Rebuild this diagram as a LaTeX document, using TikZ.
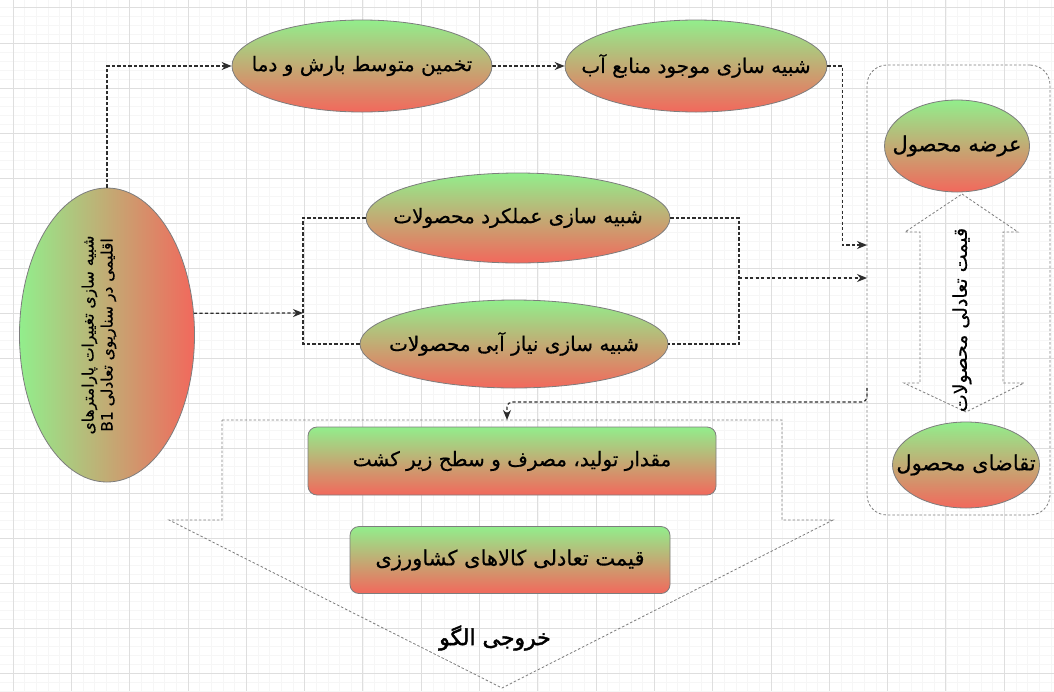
\documentclass[tikz,border=0pt]{standalone}
\usepackage{graphicx}
\usepackage{fontspec}
\newfontfamily\arabicfont[Script=Arabic,FakeBold=0.6]{DejaVu Sans}
\newfontfamily\arabicbold[Script=Arabic,FakeBold=2]{DejaVu Sans}
\TeXXeTstate=1
\usetikzlibrary{shapes.geometric,arrows.meta}
\definecolor{gtop}{RGB}{146,238,140}
\definecolor{rbot}{RGB}{242,104,92}
\definecolor{edgec}{RGB}{125,125,125}
\definecolor{linec}{RGB}{45,45,45}
\definecolor{gridmaj}{RGB}{222,222,222}
\definecolor{gridmin}{RGB}{246,246,246}
\newcommand{\ztxt}[1]{\makebox[0pt]{\beginR #1\endR}}
\begin{document}
\begin{tikzpicture}[x=1pt,y=-1pt,
  arfont/.style={font=\arabicfont\fontsize{#1}{#1}\selectfont},
  arfont/.default=20,
  grad/.style={top color=gtop,bottom color=rbot,draw=edgec,line width=0.8pt},
  oval/.style={grad,ellipse,inner sep=0pt,arfont},
  rbox/.style={grad,rectangle,rounded corners=9pt,inner sep=0pt,arfont},
  conn/.style={draw=linec,line width=1.2pt,dash pattern=on 3.2pt off 2.3pt},
  arr/.style={-{Stealth[length=10pt,width=8pt]}},
  outline/.style={draw=edgec,line width=0.8pt,dash pattern=on 2.5pt off 2pt}
]
\useasboundingbox (0,0) rectangle (1054,691);
\fill[white] (0,0) rectangle (1054,691);
% grid
\foreach \i in {0,...,90} \draw[gridmin,line width=0.4pt] ({13+11.66*\i},0) -- ({13+11.66*\i},691);
\foreach \j in {0,...,77} \draw[gridmin,line width=0.4pt] (0,{-2+9*\j}) -- (1054,{-2+9*\j});
\foreach \i in {0,...,17} \draw[gridmaj,line width=0.7pt] ({13+58.3*\i},0) -- ({13+58.3*\i},691);
\foreach \j in {1,...,15} \draw[gridmaj,line width=0.7pt] (0,{-2+45*\j}) -- (1054,{-2+45*\j});
\draw[gridmaj,line width=0.7pt] (13,7) -- (1054,7);

% big output arrow
\draw[outline] (222,420) -- (782,420) -- (782,520) -- (833,520) -- (502,688) -- (169,520) -- (222,520) -- cycle;
\coordinate (bigtop) at (507,420);

% right box
\node[outline,rectangle,rounded corners=20pt,minimum width=183pt,minimum height=450pt,inner sep=0pt] (box) at (958.5,290) {};
\coordinate (b1) at (867,245);
\coordinate (b2) at (867,278);
\coordinate (b3) at (867,388);

% double arrow inside box
\draw[outline] (962,194) -- (1018,232) -- (1003,232) -- (1003,383) -- (1024,383) -- (966,412) -- (904,383) -- (920,383) -- (920,232) -- (905,232) -- cycle;
\node[arfont=19,rotate=90,inner sep=0pt] (ptxt) at (962,320) {\beginR قیمت تعادلی محصولات\endR};

% nodes
\node[oval,left color=gtop,right color=rbot,minimum width=175pt,minimum height=294pt] (L) at (107,335)
  {\makebox[0pt]{\hspace*{-16pt}\smash{\raisebox{-.5\height}{\rotatebox{90}{\fontsize{15.5}{20}\selectfont\begin{tabular}{@{}c@{}}\beginR شبیه سازی تغییرات پارامترهای\endR\\[-1pt] \beginR اقلیمی در سناریوی تعادلی \beginL B1\endL\endR\end{tabular}}}}}};
\node[oval,minimum width=260pt,minimum height=92pt] (e1) at (362,66) {\ztxt{تخمین متوسط بارش و دما}};
\node[oval,minimum width=262pt,minimum height=92pt] (e2) at (696,66) {\ztxt{شبیه سازی موجود منابع آب}};
\node[oval,minimum width=304pt,minimum height=90pt] (e3) at (518,218) {\ztxt{شبیه سازی عملکرد محصولات}};
\node[oval,minimum width=308pt,minimum height=88pt] (e4) at (514,344) {\ztxt{شبیه سازی نیاز آبی محصولات}};
\node[oval,arfont=21,minimum width=145pt,minimum height=92pt] (s) at (957,146) {\ztxt{عرضه محصول}};
\node[oval,arfont=21,minimum width=147pt,minimum height=86pt] (d) at (966,465) {\ztxt{تقاضای محصول}};
\node[rbox,minimum width=408pt,minimum height=68pt] (r1) at (512,461) {\beginR مقدار تولید، مصرف و سطح زیر کشت\endR};
\node[rbox,arfont=21,minimum width=320pt,minimum height=67pt] (r2) at (510,560) {\beginR قیمت تعادلی کالاهای کشاورزی\endR};
\node[font=\arabicbold\fontsize{22}{24}\selectfont,inner sep=0pt] (out) at (495,638) {\beginR خروجی الگو\endR};

% connectors
\coordinate (j1) at (303,313);
\coordinate (j2) at (739,278);
\draw[conn,arr] (L.north) |- (e1.west);
\draw[conn,arr] (e1.east) -- (e2.west);
\draw[conn,arr] (e2.east) -- ++(15,0) |- (b1);
\draw[conn,arr] (L.14) -- (j1);
\draw[conn] (e3.west) -| (j1) |- (e4.west);
\draw[conn] (e3.east) -| (j2) |- (e4.east);
\draw[conn,arr] (j2) -- (b2);
\draw[conn,arr,rounded corners=5pt] (b3) -- ++(0,14) -| (bigtop);
\end{tikzpicture}
\end{document}
